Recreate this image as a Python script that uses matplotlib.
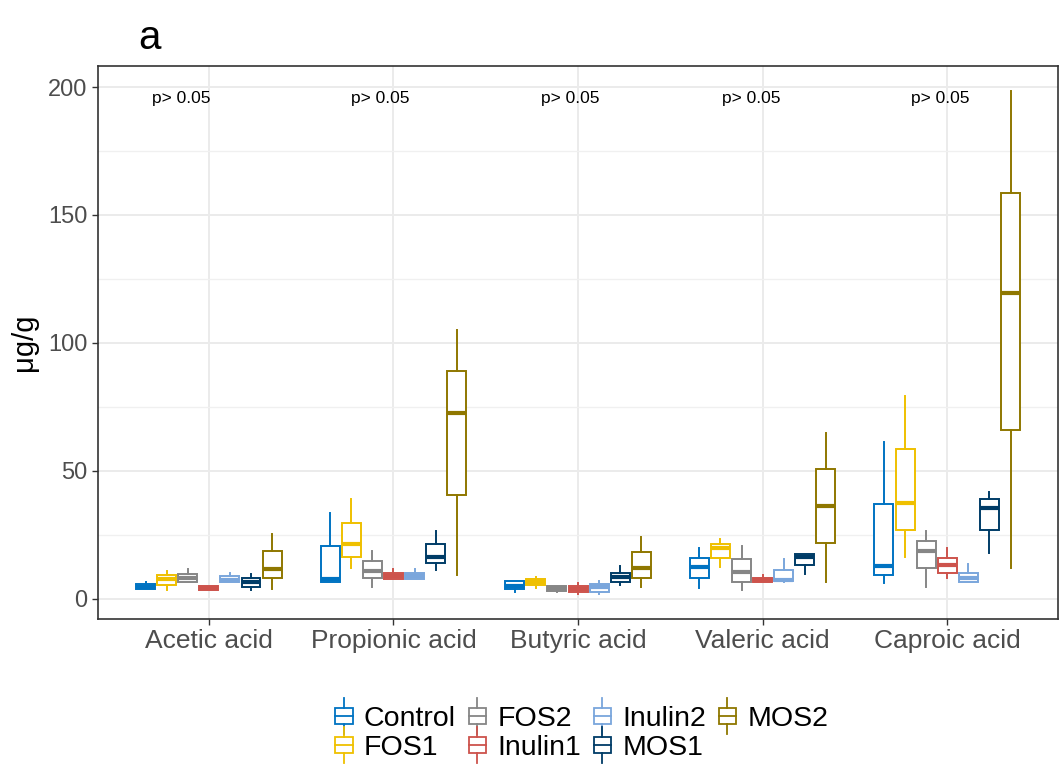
import matplotlib
matplotlib.use("Agg")
import matplotlib.pyplot as plt
from matplotlib.patches import Patch, Rectangle
from matplotlib.lines import Line2D
from matplotlib.legend_handler import HandlerBase
import numpy as np

plt.rcParams['font.family'] = ['Liberation Sans', 'DejaVu Sans']

categories = ['Acetic acid', 'Propionic acid', 'Butyric acid', 'Valeric acid', 'Caproic acid']
groups = ['Control', 'FOS1', 'FOS2', 'Inulin1', 'Inulin2', 'MOS1', 'MOS2']
colors = ['#0073C2', '#EFC000', '#868686', '#CD534C', '#7AA6DC', '#003C67', '#8F7700']
p_labels = ['p> 0.05'] * 5
p_shift = [-0.15, -0.07, -0.04, -0.06, -0.04]  # label nudges, as in the original

# per group: one tuple per acid -> (lower whisker, q1, median, q3, upper whisker)
control = [(3.9, 3.9, 4.5, 5.8, 6.6), (6.7, 6.7, 7.7, 20.7, 33.6), (2.8, 3.9, 5.1, 7.1, 7.1),
           (4.2, 8.1, 12.6, 16.1, 20.0), (6.2, 9.4, 12.8, 36.9, 61.2)]
fos1 = [(3.5, 5.5, 7.7, 9.4, 11.0), (12.0, 16.5, 21.3, 29.7, 38.9), (4.2, 5.3, 6.5, 7.8, 8.5),
        (12.6, 16.1, 20.0, 21.3, 23.3), (16.5, 27.1, 37.6, 58.5, 79.3)]
fos2 = [(6.7, 6.7, 8.3, 9.7, 11.7), (4.8, 8.1, 10.9, 14.9, 18.8), (2.7, 3.2, 4.2, 5.2, 5.2),
        (3.5, 6.7, 10.6, 15.5, 20.7), (4.8, 12.1, 18.8, 22.8, 26.6)]
inulin1 = [(3.5, 3.5, 4.3, 5.2, 5.2), (7.9, 7.9, 9.0, 10.3, 11.6), (2.0, 2.8, 4.0, 5.2, 6.4),
           (6.6, 6.6, 7.5, 8.3, 9.4), (8.2, 10.1, 13.2, 16.1, 20.1)]
inulin2 = [(6.7, 6.7, 7.5, 9.1, 10.3), (7.9, 7.9, 9.0, 10.3, 11.6), (2.0, 2.7, 4.5, 5.8, 7.1),
           (6.5, 7.0, 7.5, 11.3, 15.5), (6.8, 6.8, 8.2, 10.2, 13.6)]
mos1 = [(3.5, 4.8, 6.5, 8.3, 9.6), (11.3, 13.9, 16.5, 21.3, 26.5), (5.5, 6.7, 8.5, 10.3, 12.9),
        (9.7, 13.3, 16.5, 17.4, 17.4), (17.9, 27.1, 35.7, 38.9, 41.7)]
mos2 = [(4.0, 8.1, 11.8, 18.7, 25.3), (9.4, 40.8, 72.8, 88.9, 105.1), (4.8, 8.1, 12.2, 18.2, 24.1),
        (6.5, 21.7, 36.4, 50.6, 64.8), (12.1, 66.0, 119.5, 158.7, 198.4)]
data = [control, fos1, fos2, inulin1, inulin2, mos1, mos2]


class BoxHandler(HandlerBase):
    # little boxplot glyph for the legend keys
    def create_artists(self, legend, orig_handle, xdescent, ydescent, width, height, fontsize, trans):
        c = orig_handle.get_edgecolor()
        cx = width / 2 - xdescent
        bw = width * 0.75
        y0 = -ydescent
        rect = Rectangle((cx - bw / 2, y0 + height * 0.15), bw, height * 0.7,
                         fill=False, ec=c, lw=1.3, transform=trans)
        med = Line2D([cx - bw / 2, cx + bw / 2], [y0 + height * 0.5] * 2, color=c, lw=1.3, transform=trans)
        w1 = Line2D([cx, cx], [y0 - height * 0.25, y0 + height * 0.15], color=c, lw=1.3, transform=trans)
        w2 = Line2D([cx, cx], [y0 + height * 0.85, y0 + height * 1.25], color=c, lw=1.3, transform=trans)
        return [rect, med, w1, w2]


fig = plt.figure(figsize=(10.61, 7.67), dpi=100)
ax = fig.add_axes([0.0924, 0.193, 0.9048, 0.721])

dodge = 0.8 / len(groups)
xc = np.arange(1, len(categories) + 1)
for gi, (g, c) in enumerate(zip(groups, colors)):
    stats = []
    for vals in data[gi]:
        lo, q1, med, q3, hi = vals
        stats.append(dict(whislo=lo, q1=q1, med=med, q3=q3, whishi=hi, fliers=[]))
    pos = xc + (gi - (len(groups) - 1) / 2) * dodge
    ax.bxp(stats, positions=pos, widths=dodge * 0.9, showcaps=False, patch_artist=True,
           boxprops=dict(facecolor='white', edgecolor=c, linewidth=1.4),
           whiskerprops=dict(color=c, linewidth=1.4),
           medianprops=dict(color=c, linewidth=3.0, solid_capstyle='butt'),
           manage_ticks=False, zorder=3)

allv = [v for grp in data for row in grp for v in row]
lo, hi = min(allv), max(allv)
pad = 0.05 * (hi - lo)
ax.set_ylim(lo - pad, hi + pad)
ax.set_xlim(0.4, len(categories) + 0.6)

for x, dx, lab in zip(xc, p_shift, p_labels):
    ax.text(x + dx, 195.5, lab, ha='center', va='center', fontsize=12.5, color='black')

ax.set_xticks(xc)
ax.set_xticklabels(categories)
ax.set_yticks([0, 50, 100, 150, 200])
ax.set_yticks([25, 75, 125, 175], minor=True)
ax.grid(True, which='major', color='#EBEBEB', linewidth=1.4, zorder=0)
ax.grid(True, which='minor', axis='y', color='#F0F0F0', linewidth=1.0, zorder=0)
ax.set_axisbelow(True)
ax.tick_params(axis='both', which='major', labelcolor='#4D4D4D',
               color='#333333', length=4, width=1)
ax.tick_params(axis='x', labelsize=19)
ax.tick_params(axis='y', labelsize=17)
ax.tick_params(axis='y', which='minor', length=0)
for s in ax.spines.values():
    s.set_color('#333333')
    s.set_linewidth(1.2)

ax.set_ylabel('μg/g', fontsize=21)
ax.yaxis.set_label_coords(-0.063, 0.5)
fig.text(0.13, 0.975, 'a', fontsize=29, va='top', ha='left')

handles = [Patch(edgecolor=c, facecolor='white', label=g) for g, c in zip(groups, colors)]
fig.legend(handles=handles, loc='center', bbox_to_anchor=(0.547, 0.045), ncol=4,
           frameon=False, fontsize=20.5, handlelength=0.8, handleheight=0.9,
           handletextpad=0.3, columnspacing=0.35, labelspacing=0.05,
           handler_map={Patch: BoxHandler()})

fig.savefig('out.png', dpi=100)
